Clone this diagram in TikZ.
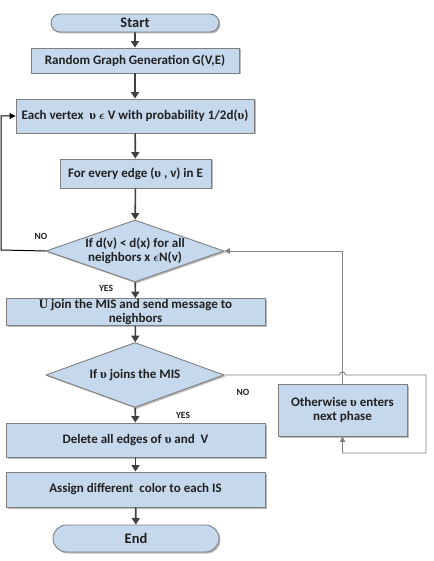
\documentclass[tikz,border=0pt]{standalone}
\usepackage{amsmath}
\usepackage{fontspec}
\setmainfont{Carlito}
\newfontfamily\serifU{Liberation Serif}
\usetikzlibrary{shapes.geometric,shapes.misc,shadows,arrows.meta}
\definecolor{boxfill}{HTML}{C5D8EC}
\definecolor{boxline}{HTML}{7F7F7F}
\definecolor{arrowc}{HTML}{404040}
\definecolor{textc}{HTML}{202020}
\newcommand{\ups}{{\serifU υ}}
\newcommand{\eps}{\ensuremath{\boldsymbol{\epsilon}}}
\begin{document}
\begin{tikzpicture}[x=1pt,y=-1pt,
  base/.style={draw=boxline,line width=0.9pt,fill=boxfill,text=textc,
    font=\fontsize{13}{13.5}\selectfont\bfseries,align=center,inner sep=1pt,
    drop shadow={shadow xshift=1.5pt,shadow yshift=-1.5pt,fill=black!45,opacity=0.6}},
  procbox/.style={base,rectangle},
  term/.style={base,rounded rectangle,font=\fontsize{14.5}{15}\selectfont\bfseries},
  decision/.style={base,diamond,aspect=2.8,inner sep=0pt},
  flow/.style={draw=arrowc,line width=1.6pt,-{Triangle[width=8pt,length=6.5pt]}},
  thin/.style={draw=boxline,line width=0.9pt},
  thinarrow/.style={thin,-{Triangle[width=5.5pt,length=5.5pt]}},
  lbl/.style={font=\fontsize{9.5}{10}\selectfont\bfseries,text=textc,inner sep=0pt}]
\useasboundingbox (0,0) rectangle (433,561);

\node[term,minimum width=170pt,minimum height=18pt] (start) at (135,23) {Start};
\node[procbox,minimum width=208pt,minimum height=25pt] (b1) at (135,60.5) {Random Graph Generation G(V,E)};
\node[procbox,minimum width=238pt,minimum height=34pt] (b2) at (135,116) {Each vertex \ \ups\ \eps\ V with probability 1/2d(\ups)};
\node[procbox,minimum width=151pt,minimum height=29pt] (b3) at (135.5,173.5) {For every edge (\ups\ , v) in E};
\node[decision,minimum width=178pt,minimum height=62pt] (d1) at (135,251) {If d(v) < d(x) for all\\neighbors x \eps N(v)};
\node[procbox,minimum width=259pt,minimum height=26pt] (b4) at (135.5,312) {{\serifU U} join the MIS and send message to\\neighbors};
\node[decision,minimum width=178pt,minimum height=65pt] (d2) at (135,375) {If \ups\ joins the MIS};
\node[procbox,minimum width=129pt,minimum height=52pt] (other) at (342.5,410) {Otherwise \ups\ enters\\next phase};
\node[procbox,minimum width=259pt,minimum height=34pt] (b5) at (135.5,440) {Delete all edges of \ups\ and \ V};
\node[procbox,minimum width=259pt,minimum height=35pt] (b6) at (135.5,489.5) {Assign different \ color to each IS};
\node[term,minimum width=168pt,minimum height=27pt] (end) at (136,538.5) {End};

\draw[flow] (start) -- (b1);
\draw[flow] (b1) -- (b2);
\draw[flow] (b2) -- (b3);
\draw[flow] (b3) -- (d1);
\draw[flow] (d1) -- (b4);
\draw[flow] (b4) -- (d2);
\draw[flow] (d2) -- (b5);
\draw[flow] (b5) -- (b6);
\draw[flow] (b6) -- (end);

\coordinate (nl1) at (1,250);
\coordinate (nl2) at (1,116);
\draw[line width=1pt,-{Triangle[width=6pt,length=6pt]}] (d1.west) -- (nl1) -- (nl2) -- (b2.west);

\coordinate (r1) at (426,375);
\coordinate (r2) at (426,453);
\coordinate (r3) at (342.5,453);
\draw[thinarrow] (d2.east) -- (339.5,375) arc(180:360:3) -- (r1) -- (r2) -- (r3) -- (other.south);

\coordinate (u1) at (342.5,251);
\draw[thinarrow] (other.north) -- (u1) -- (d1.east);

\node[lbl] (no1) at (41,236) {NO};
\node[lbl] (yes1) at (106,288) {YES};
\node[lbl] (no2) at (243,392) {NO};
\node[lbl] (yes2) at (183,415) {YES};
\end{tikzpicture}
\end{document}
